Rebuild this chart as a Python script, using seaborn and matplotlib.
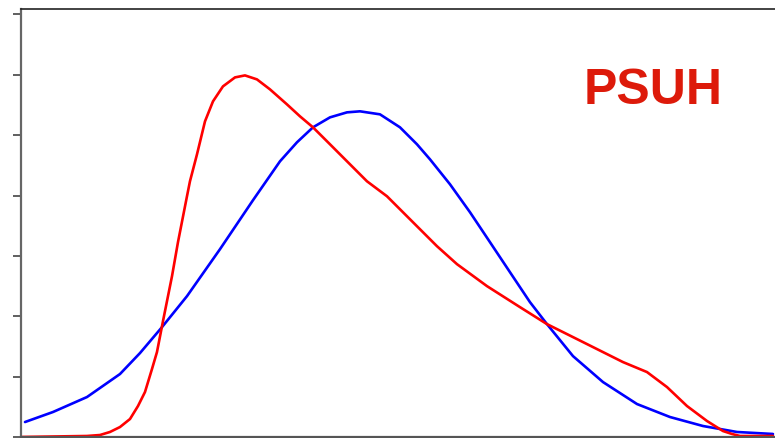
import matplotlib
matplotlib.use("Agg")
import matplotlib.pyplot as plt
import pandas as pd
import seaborn as sns

# Curva azul
x_azul = [-0.131, 0.394, 1.032, 1.651, 2.026, 2.439, 2.908, 3.527, 4.146, 4.653,
          4.972, 5.272, 5.591, 5.910, 6.154, 6.529, 6.904, 7.223, 7.467, 7.842,
          8.218, 8.593, 8.968, 9.343, 9.662, 10.150, 10.713, 11.351, 11.970,
          12.589, 13.227, 13.902]
y_azul = [0.248, 0.414, 0.662, 1.043, 1.390, 1.820, 2.333, 3.111, 3.922, 4.567,
          4.882, 5.130, 5.295, 5.378, 5.395, 5.345, 5.130, 4.849, 4.600, 4.187,
          3.723, 3.227, 2.730, 2.234, 1.870, 1.340, 0.910, 0.546, 0.331,
          0.182, 0.083, 0.050]

# Curva vermelha
x_verm = [-0.225, 1.032, 1.276, 1.463, 1.651, 1.839, 1.989, 2.120, 2.251, 2.345,
          2.458, 2.627, 2.739, 2.908, 2.964, 3.096, 3.246, 3.396, 3.583, 3.809,
          3.996, 4.221, 4.465, 4.784, 5.028, 5.272, 5.591, 5.910, 6.285, 6.660,
          7.092, 7.598, 7.974, 8.537, 9.156, 9.662, 10.413, 11.088, 11.538,
          11.914, 12.289, 12.664, 12.964, 13.133, 13.283, 13.902]
y_verm = [0.000, 0.017, 0.033, 0.083, 0.165, 0.298, 0.513, 0.745, 1.125, 1.407,
          1.920, 2.664, 3.227, 3.988, 4.236, 4.683, 5.229, 5.560, 5.808, 5.957,
          5.990, 5.924, 5.759, 5.510, 5.312, 5.130, 4.849, 4.567, 4.236, 3.988,
          3.607, 3.161, 2.863, 2.499, 2.151, 1.870, 1.539, 1.241, 1.076,
          0.827, 0.513, 0.265, 0.099, 0.050, 0.017, 0.017]

titulo = "PSUH"

df_azul = pd.DataFrame({"x": x_azul, "y": y_azul})
df_verm = pd.DataFrame({"x": x_verm, "y": y_verm})

sns.set_style("white")
plt.rcParams["font.family"] = ["Liberation Sans", "DejaVu Sans"]

fig = plt.figure(figsize=(7.75, 4.39), dpi=100)
ax = fig.add_axes([21 / 775, 1 / 439, 1 - 21 / 775, 428 / 439])

sns.lineplot(data=df_azul, x="x", y="y", color="#0000ff", linewidth=1.9, sort=False, ax=ax)
sns.lineplot(data=df_verm, x="x", y="y", color="#ff0000", linewidth=1.9, sort=False, ax=ax)

ax.set_xlim(-0.206, 13.94)
ax.set_ylim(0, 7.09)
ax.set_xticks(range(0, 14))
ax.set_yticks(range(0, 8))
ax.set_xticklabels([])
ax.set_yticklabels([])
ax.set_xlabel("")
ax.set_ylabel("")

ax.spines["right"].set_visible(False)
ax.spines["top"].set_color("#222222")
ax.spines["top"].set_linewidth(1.2)
ax.spines["left"].set_color("#666666")
ax.spines["left"].set_linewidth(1.6)
ax.spines["bottom"].set_color("#555555")
ax.spines["bottom"].set_linewidth(1.6)
ax.tick_params(axis="y", direction="out", length=6, width=1.2, color="#444444", left=True)
ax.tick_params(axis="x", direction="out", length=3, width=1.0, color="#333333", bottom=True)

ax.text(11.65, 5.527, titulo, color="#dd1a0a", fontsize=36, fontweight="bold",
        ha="center", va="baseline")

fig.savefig("out.png", dpi=100)
